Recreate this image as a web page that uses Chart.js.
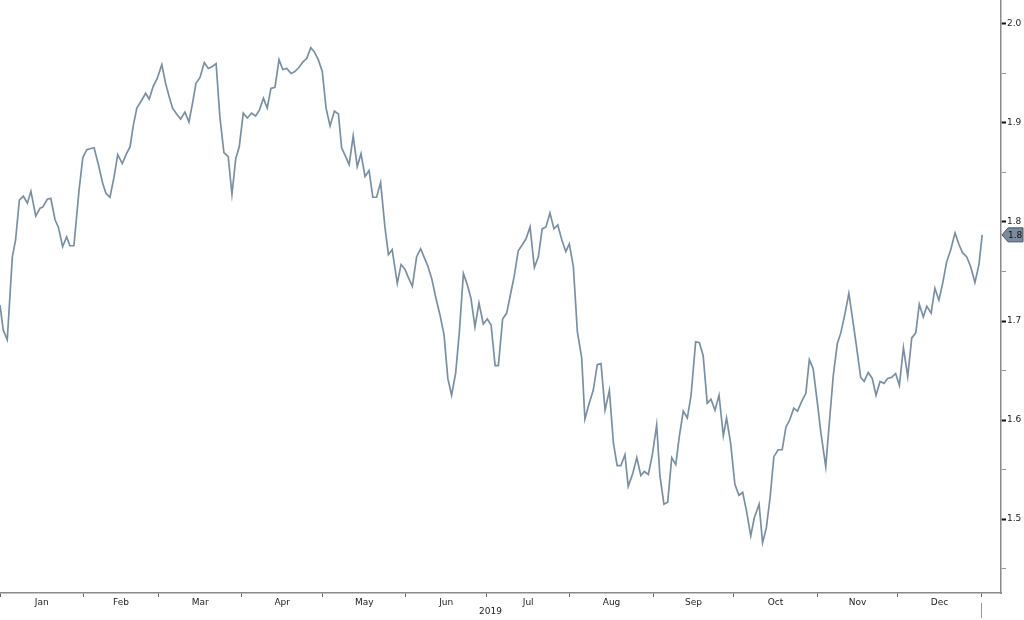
<!DOCTYPE html>
<html>
<head>
<meta charset="utf-8">
<script src="https://cdn.jsdelivr.net/npm/chart.js@4/dist/chart.umd.min.js"></script>
<style>
  html, body { margin: 0; padding: 0; background: #fff; }
  #wrap { width: 1024px; height: 620px; }
</style>
</head>
<body>
<div id="wrap"><canvas id="chart"></canvas></div>
<script>
// day of year (Jan 1 = 0)
const days = [
  0, 1.2, 2.7, 4.6, 5.8, 7.2, 8.7, 10.2, 11.5, 13.3, 14.9, 15.9, 17.6, 18.9, 20.5, 21.7, 23.3, 24.8, 26.0, 27.5,
  29.4, 30.8, 32.3, 33.5, 35.0, 36.6, 38.2, 39.4, 40.9, 42.4, 43.8, 45.5, 46.9, 48.4, 49.5, 50.9, 52.7, 54.2, 55.5, 57.0,
  58.5, 60.2, 61.6, 63.0, 64.2, 65.7, 67.2, 68.8, 70.3, 71.7, 72.9, 74.4, 76.0, 77.5, 79.0, 80.4, 81.8, 83.3, 84.9, 86.3,
  87.7, 89.0, 90.5, 92.0, 93.6, 95.1, 96.5, 98.0, 99.4, 100.8, 102.3, 103.8, 105.2, 106.7, 108.3, 109.7, 111.2, 112.8, 114.1, 115.6,
  116.9, 118.4, 119.9, 121.3, 122.8, 124.4, 125.9, 127.1, 128.6, 129.9, 131.4, 132.9, 134.3, 135.8, 137.3, 138.7, 140.1, 141.6, 143.2, 144.5,
  145.9, 147.8, 149.2, 150.7, 151.9, 153.4, 155.0, 156.5, 157.7, 159.1, 160.6, 162.1, 163.7, 165.2, 166.6, 168.0, 169.5, 170.9, 172.4, 173.8,
  175.2, 176.7, 178.2, 179.8, 181.3, 182.7, 184.2, 185.4, 187.0, 188.5, 190.0, 191.3, 192.8, 194.3, 195.7, 197.2, 198.8, 200.3, 201.7, 203.1,
  204.6, 206.1, 207.5, 209.0, 210.5, 211.8, 213.3, 214.8, 216.4, 217.6, 219.2, 220.7, 222.2, 223.6, 225.1, 226.7, 228.2, 229.6, 231.0, 232.5,
  233.7, 235.4, 236.9, 238.4, 239.7, 241.2, 242.7, 244.3, 245.5, 247.0, 248.4, 249.9, 251.4, 252.7, 254.2, 255.7, 257.1, 258.8, 260.2, 261.6,
  263.1, 264.5, 266.0, 267.5, 269.1, 270.3, 271.8, 273.4, 274.9, 276.3, 277.8, 279.3, 280.6, 282.4, 283.7, 285.1, 286.5, 287.9, 289.5, 291.0,
  292.4, 293.8, 295.3, 296.7, 298.3, 299.8, 301.1, 302.5, 304.1, 305.4, 307.2, 308.5, 310.0, 311.5, 312.8, 314.4, 315.8, 317.2, 318.7, 320.2,
  321.5, 323.0, 324.5, 325.9, 327.4, 328.9, 330.2, 331.7, 333.2, 334.6, 336.1, 337.7, 339.2, 340.7, 342.0, 343.5, 344.8, 346.4, 347.8, 349.3,
  350.7, 352.2, 353.7, 355.3, 356.8, 358.1, 359.6, 361.1, 362.7, 364.2, 365.4
];

const values = [
  1.716, 1.691, 1.681, 1.765, 1.782, 1.822, 1.826, 1.819, 1.831, 1.806, 1.814, 1.815, 1.823, 1.824, 1.802, 1.795, 1.775, 1.785, 1.776, 1.776,
  1.832, 1.865, 1.873, 1.874, 1.875, 1.858, 1.839, 1.829, 1.825, 1.845, 1.868, 1.859, 1.868, 1.876, 1.896, 1.915, 1.923, 1.930, 1.924, 1.937,
  1.945, 1.959, 1.940, 1.926, 1.915, 1.909, 1.904, 1.911, 1.901, 1.921, 1.940, 1.946, 1.961, 1.955, 1.957, 1.960, 1.906, 1.870, 1.866, 1.828,
  1.864, 1.876, 1.910, 1.905, 1.910, 1.907, 1.913, 1.925, 1.915, 1.935, 1.936, 1.964, 1.954, 1.955, 1.950, 1.952, 1.956, 1.962, 1.965, 1.976,
  1.972, 1.964, 1.952, 1.915, 1.897, 1.912, 1.909, 1.875, 1.866, 1.858, 1.887, 1.856, 1.869, 1.846, 1.852, 1.825, 1.825, 1.840, 1.795, 1.767,
  1.772, 1.738, 1.757, 1.752, 1.744, 1.735, 1.765, 1.773, 1.765, 1.756, 1.743, 1.724, 1.706, 1.686, 1.642, 1.625, 1.647, 1.689, 1.748, 1.737,
  1.723, 1.694, 1.718, 1.697, 1.702, 1.696, 1.655, 1.655, 1.702, 1.708, 1.728, 1.745, 1.771, 1.777, 1.783, 1.795, 1.754, 1.765, 1.793, 1.795,
  1.809, 1.793, 1.797, 1.782, 1.770, 1.778, 1.755, 1.689, 1.663, 1.601, 1.617, 1.630, 1.656, 1.657, 1.610, 1.630, 1.577, 1.554, 1.554, 1.565,
  1.533, 1.546, 1.562, 1.544, 1.548, 1.545, 1.565, 1.595, 1.544, 1.515, 1.517, 1.562, 1.555, 1.583, 1.609, 1.602, 1.625, 1.679, 1.678, 1.665,
  1.617, 1.621, 1.610, 1.625, 1.584, 1.602, 1.577, 1.535, 1.524, 1.527, 1.507, 1.483, 1.501, 1.515, 1.476, 1.491, 1.522, 1.563, 1.570, 1.570,
  1.593, 1.600, 1.612, 1.609, 1.619, 1.627, 1.661, 1.652, 1.617, 1.587, 1.553, 1.596, 1.645, 1.677, 1.688, 1.708, 1.728, 1.702, 1.673, 1.643,
  1.639, 1.648, 1.642, 1.625, 1.639, 1.637, 1.642, 1.643, 1.647, 1.635, 1.673, 1.644, 1.683, 1.688, 1.717, 1.704, 1.715, 1.708, 1.733, 1.721,
  1.738, 1.760, 1.772, 1.789, 1.777, 1.769, 1.765, 1.755, 1.739, 1.757, 1.787
];

// month boundaries as day of year, and labels
const monthStarts = [0, 31, 59, 90, 120, 151, 181, 212, 243, 273, 304, 334, 365];
const monthLabels = ["Jan", "Feb", "Mar", "Apr", "May", "Jun", "Jul", "Aug", "Sep", "Oct", "Nov", "Dec"];
const yearLabel = "2019";

const midMonths = monthStarts.slice(0, -1).map((d, i) => (d + monthStarts[i + 1]) / 2);
const isMajorY = (v) => Math.abs(v * 10 - Math.round(v * 10)) < 1e-6;

const axisFont = { family: "DejaVu Sans", size: 9 };
const textColor = "#222";

const annotPlugin = {
  id: "annot",
  afterDraw(chart) {
    const { ctx, chartArea, scales } = chart;
    const x = scales.x;
    const y = scales.y;
    ctx.save();

    // last value flag
    const last = values[values.length - 1];
    const py = y.getPixelForValue(last);
    const px = chartArea.right + 1;
    ctx.beginPath();
    ctx.moveTo(px, py);
    ctx.lineTo(px + 6, py - 7);
    ctx.lineTo(1023, py - 7);
    ctx.lineTo(1023, py + 7);
    ctx.lineTo(px + 6, py + 7);
    ctx.closePath();
    ctx.fillStyle = "#7a8b9c";
    ctx.fill();
    ctx.strokeStyle = "#4a5764";
    ctx.lineWidth = 1;
    ctx.stroke();
    ctx.fillStyle = "#111";
    ctx.font = "9px 'DejaVu Sans'";
    ctx.textAlign = "left";
    ctx.textBaseline = "middle";
    ctx.fillText(last.toFixed(1), px + 6, py + 1);

    // year label and year separator
    ctx.fillStyle = textColor;
    ctx.textAlign = "center";
    ctx.fillText(yearLabel, x.getPixelForValue((monthStarts[0] + monthStarts[12]) / 2), chartArea.bottom + 19);
    const sx = Math.round(x.getPixelForValue(monthStarts[12])) + 0.5;
    ctx.strokeStyle = "#999";
    ctx.beginPath();
    ctx.moveTo(sx, chartArea.bottom + 10);
    ctx.lineTo(sx, chartArea.bottom + 25);
    ctx.stroke();
    ctx.restore();
  }
};

new Chart(document.getElementById("chart"), {
  type: "line",
  data: {
    datasets: [{
      data: days.map((d, i) => ({ x: d, y: values[i] })),
      borderColor: "#7b8fa3",
      borderWidth: 1.7,
      pointRadius: 0,
      tension: 0,
      fill: false
    }]
  },
  options: {
    responsive: true,
    maintainAspectRatio: false,
    animation: false,
    layout: { padding: 0 },
    plugins: { legend: { display: false }, tooltip: { enabled: false } },
    scales: {
      x: {
        type: "linear",
        min: 0,
        max: 372.4,
        afterBuildTicks: (scale) => {
          scale.ticks = monthStarts.concat(midMonths).sort((a, b) => a - b).map((v) => ({ value: v }));
        },
        afterFit: (scale) => {
          scale.height = 27;
          scale.paddingLeft = 0;
          scale.paddingRight = 0;
        },
        ticks: {
          autoSkip: false,
          maxRotation: 0,
          padding: 0,
          color: textColor,
          font: axisFont,
          callback: (v) => {
            const i = midMonths.indexOf(v);
            return i >= 0 ? monthLabels[i] : "";
          }
        },
        grid: {
          drawOnChartArea: false,
          drawTicks: true,
          tickLength: 4,
          tickColor: (ctx) => (ctx.tick && monthStarts.includes(ctx.tick.value) ? "#666" : "rgba(0,0,0,0)")
        },
        border: { color: "#8a8a8a", width: 1.5 }
      },
      y: {
        position: "right",
        min: 1.4253,
        max: 2.0242,
        afterFit: (scale) => {
          scale.width = 23;
          scale.paddingTop = 0;
          scale.paddingBottom = 0;
        },
        ticks: {
          stepSize: 0.05,
          includeBounds: false,
          autoSkip: false,
          padding: 1,
          color: textColor,
          font: axisFont,
          callback: (v) => (isMajorY(v) ? v.toFixed(1) : "")
        },
        grid: {
          drawOnChartArea: false,
          drawTicks: true,
          tickLength: 5,
          tickColor: (ctx) => (ctx.tick && isMajorY(ctx.tick.value) ? "#111" : "#999"),
          tickWidth: (ctx) => (ctx.tick && isMajorY(ctx.tick.value) ? 2 : 1)
        },
        border: { color: "#8a8a8a", width: 1.5 }
      }
    }
  },
  plugins: [annotPlugin]
});
</script>
</body>
</html>
